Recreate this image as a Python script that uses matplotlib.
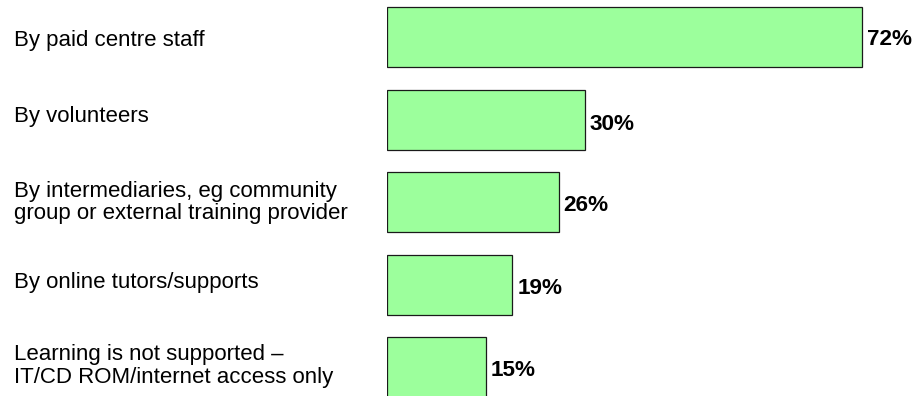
import matplotlib
matplotlib.use("Agg")
import matplotlib.pyplot as plt

# Ways in which learning is supported (share of centres, %)
categories = [
    "By paid centre staff",
    "By volunteers",
    "By intermediaries, eg community\ngroup or external training provider",
    "By online tutors/supports",
    "Learning is not supported \u2013\nIT/CD ROM/internet access only",
]
values = [72, 30, 26, 19, 15]
value_labels = ["72%", "30%", "26%", "19%", "15%"]

# Small per-row nudges (pixels, positive = up) for the text boxes
category_nudge = [-3, 3, 0, 2.5, 1.5]
value_nudge = [-2, -4.5, -3.5, -3.5, -3.5]

W, H, DPI = 916, 396, 100
plt.rcParams["font.family"] = ["Liberation Sans", "DejaVu Sans"]
FS_CAT = 16.0
FS_VAL = 16.2

fig = plt.figure(figsize=(W / DPI, H / DPI), dpi=DPI)
fig.patch.set_facecolor("white")

left_px = 387.0
px_per_pct = 6.6
row_px = 82.5
first_center_px = 37.5

ax = fig.add_axes([left_px / W, 0, 1 - left_px / W, 1])
ax.set_xlim(0, (W - left_px) / px_per_pct)
top = -first_center_px / row_px
bottom = (H - first_center_px) / row_px
ax.set_ylim(bottom, top)
ax.axis("off")

ypos = list(range(len(categories)))
ax.barh(ypos, values, height=60 / row_px, left=0, color="#9cff9c",
        edgecolor="#1a1a1a", linewidth=0.9, clip_on=True)

for i, (cat, v, lab) in enumerate(zip(categories, values, value_labels)):
    ax.annotate(cat, xy=(14 / W, i), xycoords=("figure fraction", "data"),
                xytext=(0, category_nudge[i]), textcoords="offset pixels",
                ha="left", va="center", fontsize=FS_CAT, color="#000000",
                linespacing=1.1, annotation_clip=False)
    ax.annotate(lab, xy=(v, i), xycoords="data",
                xytext=(5, value_nudge[i]), textcoords="offset pixels",
                ha="left", va="center", fontsize=FS_VAL, fontweight="bold",
                color="#000000", annotation_clip=False)

fig.savefig("out.png", dpi=DPI, facecolor="white")
